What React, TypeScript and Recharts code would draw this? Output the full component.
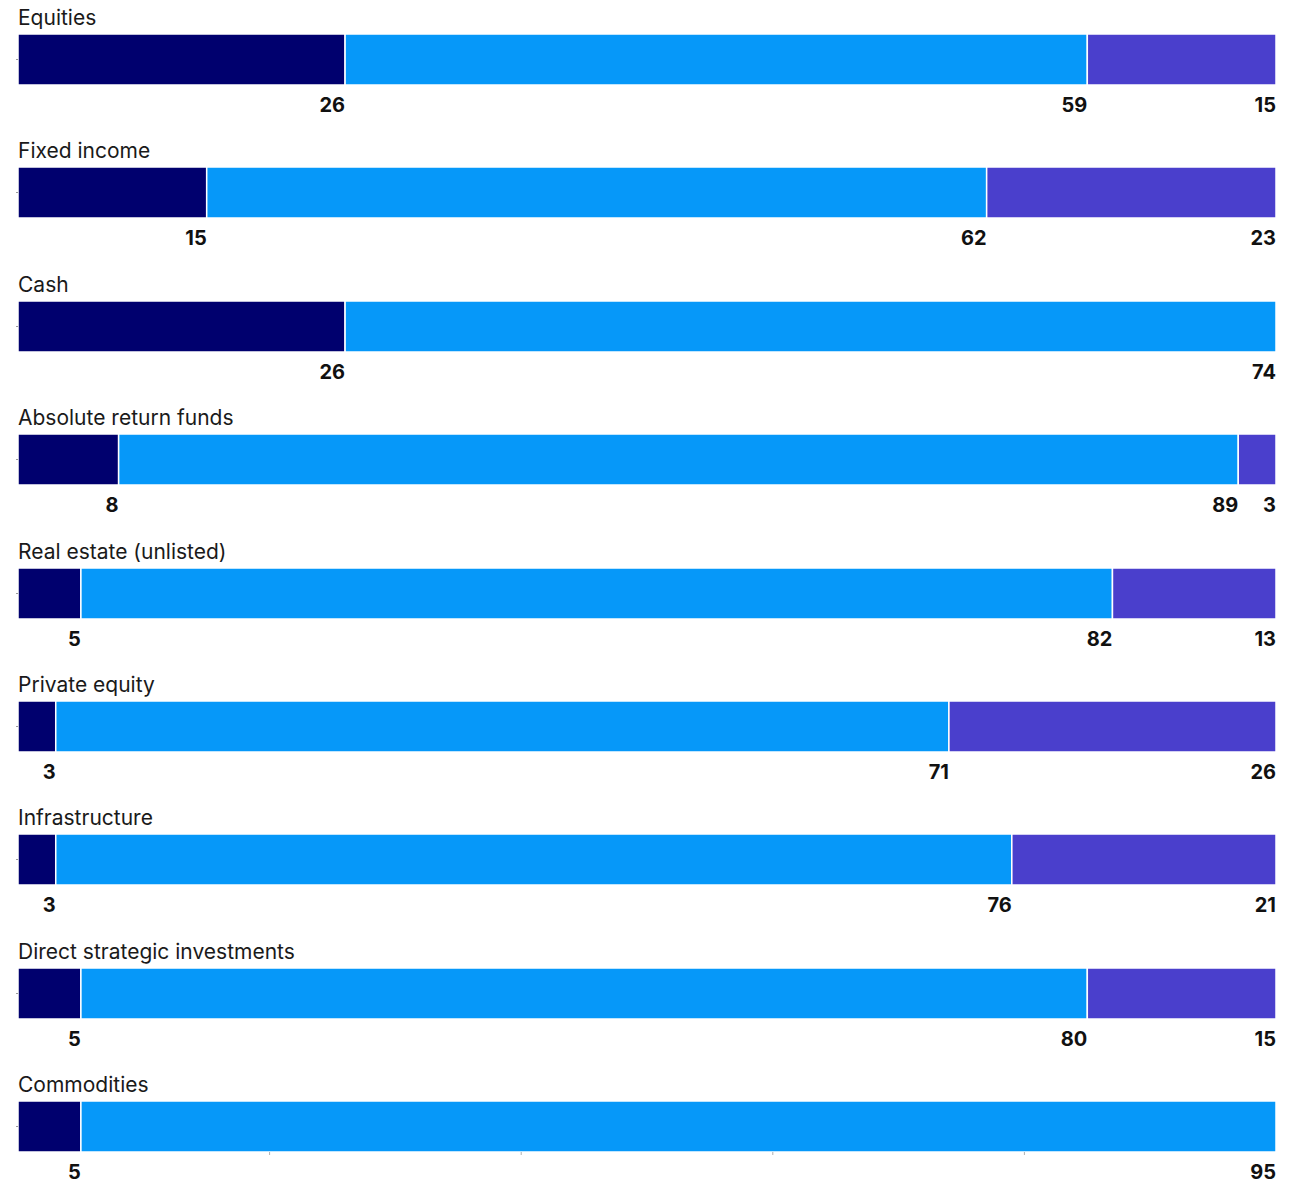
import React from 'react';
import { BarChart, Bar, XAxis, YAxis, LabelList } from 'recharts';

const categories = [
  'Equities',
  'Fixed income',
  'Cash',
  'Absolute return funds',
  'Real estate (unlisted)',
  'Private equity',
  'Infrastructure',
  'Direct strategic investments',
  'Commodities',
];

// three segments per asset class (null = no segment)
const firstSeg = [26, 15, 26, 8, 5, 3, 3, 5, 5];
const secondSeg = [59, 62, 74, 89, 82, 71, 76, 80, 95];
const thirdSeg: (number | null)[] = [15, 23, null, 3, 13, 26, 21, 15, null];

const xTicks = [20, 40, 60, 80];

const colors = ['#00006e', '#0698f9', '#4a3fcc'];
const keys = ['a', 'b', 'c'];

const ROW_H = 133.375;
const W = 1293;

const FONT = 'Inter, "Noto Sans", sans-serif';

const TitleTick = (props: any) => {
  const { y, payload } = props;
  return (
    <g>
      <line x1={16} x2={18} y1={y} y2={y} stroke="#9a9a9a" strokeWidth={1} />
      <text x={18} y={y - 34.5} fontSize={21} fontFamily={FONT} fill="#1a1a1a">
        {payload.value}
      </text>
    </g>
  );
};

const ValueLabel = (props: any) => {
  const { x, y, width, height, value } = props;
  if (value == null || value === 0) return null;
  return (
    <text
      x={x + width}
      y={y + height + 27}
      textAnchor="end"
      fontSize={20}
      fontWeight={700}
      fontFamily={FONT}
      fill="#111"
    >
      {value}
    </text>
  );
};

const Row: React.FC<{ idx: number; last: boolean }> = ({ idx, last }) => {
  const data = [
    { name: categories[idx], a: firstSeg[idx], b: secondSeg[idx], c: thirdSeg[idx] },
  ];
  const height = last ? 1183 - ROW_H * 8 : ROW_H;
  const bottom = height - 34 - 51;
  return (
    <div style={{ position: 'absolute', left: 0, top: idx * ROW_H, width: W, height }}>
      <BarChart
        width={W}
        height={height}
        data={data}
        layout="vertical"
        barCategoryGap={0}
        margin={{ top: 34, right: 17, left: 0, bottom: last ? bottom - 4 : bottom }}
      >
        <XAxis
          type="number"
          domain={[0, 100]}
          ticks={xTicks}
          hide={!last}
          height={4}
          axisLine={false}
          tickSize={3}
          tickLine={{ stroke: '#b0b0b0' }}
          tickFormatter={() => ''}
        />
        <YAxis
          type="category"
          dataKey="name"
          width={18}
          axisLine={false}
          tickLine={false}
          tick={<TitleTick />}
        />
        {keys.map((k, i) => (
          <Bar
            key={k}
            dataKey={k}
            stackId="s"
            fill={colors[i]}
            stroke="#fff"
            strokeWidth={1.5}
            isAnimationActive={false}
          >
            <LabelList dataKey={k} content={<ValueLabel />} />
          </Bar>
        ))}
      </BarChart>
    </div>
  );
};

export default function App() {
  return (
    <div
      style={{
        position: 'absolute',
        left: 0,
        top: 0,
        width: W,
        height: 1183,
        overflow: 'hidden',
        background: '#fff',
      }}
    >
      {categories.map((c, i) => (
        <Row key={c} idx={i} last={i === categories.length - 1} />
      ))}
    </div>
  );
}
